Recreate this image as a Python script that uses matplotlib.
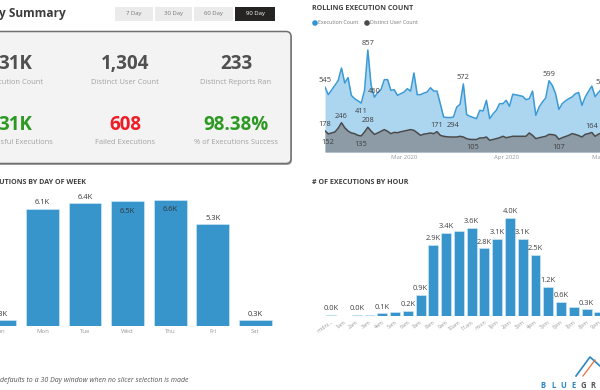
import matplotlib
matplotlib.use("Agg")
import matplotlib.pyplot as plt
import pandas as pd
from matplotlib.patches import FancyBboxPatch, Rectangle

plt.rcParams['font.family'] = ['Open Sans', 'DejaVu Sans']

W, H = 600, 390

# ---- data ----
slicer_labels = ["7 Day", "30 Day", "60 Day", "90 Day"]

kpi_values = ["31K", "1,304", "233", "31K", "608", "98.38%"]
kpi_labels = ["Execution Count", "Distinct User Count", "Distinct Reports Ran",
              "Successful Executions", "Failed Executions", "% of Executions Success"]

start_date = "2020-02-06"
exec_counts = [545, 482, 520, 560, 600, 706, 580, 625, 476, 448,
               430, 411, 518, 857, 560, 460, 500, 524, 608, 608,
               518, 524, 476, 490, 504, 532, 512, 664, 482, 482,
               495, 504, 540, 512, 512, 406, 294, 290, 289, 294,
               378, 400, 572, 314, 300, 290, 280, 350, 345, 434,
               280, 320, 350, 406, 406, 434, 384, 485, 480, 474,
               468, 440, 448, 512, 308, 378, 420, 454, 599, 560,
               490, 358, 406, 430, 448, 462, 490, 500, 392, 462,
               510, 554, 465, 500, 529, 480]
user_counts = [178, 152, 160, 168, 200, 246, 204, 176, 160, 154,
               140, 135, 168, 208, 176, 148, 160, 174, 188, 174,
               154, 165, 162, 170, 176, 182, 188, 182, 162, 140,
               150, 154, 160, 154, 171, 140, 132, 128, 126, 126,
               126, 132, 126, 112, 106, 105, 105, 118, 118, 126,
               98, 105, 112, 120, 132, 120, 126, 132, 132, 132,
               132, 132, 160, 140, 112, 120, 126, 132, 148, 146,
               140, 107, 120, 130, 140, 154, 148, 138, 126, 148,
               155, 164, 132, 150, 160, 150]
# (day index, above?) for the data labels Power BI shows
exec_marks = [(0, True), (11, False), (13, True), (15, True), (39, False),
              (42, True), (68, True), (84, True)]
user_marks = [(0, True), (1, False), (5, True), (11, False), (13, True),
              (34, True), (45, False), (71, False), (81, True)]

day_names = ["Sun", "Mon", "Tue", "Wed", "Thu", "Fri", "Sat"]
day_counts = [0.3, 6.1, 6.4, 6.5, 6.6, 5.3, 0.3]  # thousands
day_inside = ["Wed", "Thu"]

hour_names = ["midni...", "1am", "2am", "3am", "4am", "5am", "6am", "7am",
              "8am", "9am", "10am", "11am", "noon", "1pm", "2pm", "3pm",
              "4pm", "5pm", "6pm", "7pm", "8pm", "9pm"]
hour_counts = [0.04, 0.02, 0.04, 0.03, 0.11, 0.15, 0.22, 0.87, 2.9, 3.39,
               3.47, 3.59, 2.75, 3.12, 4.0, 3.13, 2.47, 1.19, 0.56, 0.35,
               0.27, 0.18]
hour_labelled = [0, 2, 4, 6, 7, 8, 9, 11, 12, 13, 14, 15, 16, 17, 18, 20]

BAR = "#3795cb"
LIGHT = "#a3a3a3"


def rect(l, t, r, b):
    return [l / W, 1 - b / H, (r - l) / W, (b - t) / H]


fig = plt.figure(figsize=(6, 3.9), dpi=100)
bg = fig.add_axes([0, 0, 1, 1])
bg.set_xlim(0, W)
bg.set_ylim(H, 0)
bg.axis("off")

# ---- header + slicer ----
bg.text(66, 13, "Report Activity Summary", fontsize=8.6, fontweight="bold",
        color="#3c3c3c", ha="right", va="center")
btn_x = [(115, 153), (155, 192), (194, 233), (235, 275)]
for (l, r), lab in zip(btn_x, slicer_labels):
    sel = lab == "90 Day"
    bg.add_patch(Rectangle((l, 7), r - l, 14, fc="#252423" if sel else "#ebebeb", ec="none"))
    bg.text((l + r) / 2, 14, lab, fontsize=4.3, color="white" if sel else "#777777",
            ha="center", va="center")

# ---- KPI card ----
bg.add_patch(FancyBboxPatch((-10, 33), 302, 132, boxstyle="round,pad=0,rounding_size=5",
                            fc="#a8a8a8", ec="none"))
bg.add_patch(FancyBboxPatch((-11, 31.5), 302, 132, boxstyle="round,pad=0,rounding_size=5",
                            fc="#f3f3f3", ec="#707070", lw=1.1))
col_x = [15, 125, 236]
val_colors = ["#505050", "#505050", "#505050", "#2c9a22", "#ee1c24", "#2c9a22"]
for i, (v, lab) in enumerate(zip(kpi_values, kpi_labels)):
    cx = col_x[i % 3]
    vy, ly = (64, 83) if i < 3 else (125, 143)
    bg.text(cx, vy, v, fontsize=13.5, fontweight="bold", color=val_colors[i],
            ha="center", va="center")
    bg.text(cx, ly, lab, fontsize=5.4, color=LIGHT, ha="center", va="center")

# ---- rolling execution count ----
bg.text(312, 8, "ROLLING EXECUTION COUNT", fontsize=5.1, fontweight="bold",
        color="#404040", ha="left", va="center")
bg.scatter([315, 367], [23, 23], s=9, color=["#2f96d3", "#4a4a4a"], zorder=3)
bg.text(318.5, 23, "Execution Count", fontsize=3.8, color="#777777", va="center")
bg.text(370.5, 23, "Distinct User Count", fontsize=3.8, color="#777777", va="center")

dates = pd.date_range(start_date, periods=len(exec_counts), freq="D")
ax = fig.add_axes(rect(325, 33, 605, 152))
ax.patch.set_alpha(0)
ax.fill_between(dates, exec_counts, color="#acd5ef", lw=0)
ax.plot(dates, exec_counts, color="#3a9ad6", lw=1.1)
ax.fill_between(dates, user_counts, color="#8c9ba6", lw=0)
ax.plot(dates, user_counts, color="#4a4a4a", lw=1.1)
ax.set_xlim(dates[0], pd.Timestamp("2020-05-01"))
ax.set_ylim(0, 1000)
for s in ax.spines.values():
    s.set_visible(False)
ax.set_yticks([])
ticks = pd.to_datetime(["2020-03-01", "2020-04-01", "2020-05-01"])
ax.set_xticks(ticks, [t.strftime("%b %Y") for t in ticks])
ax.tick_params(axis="x", length=0, pad=2.5, labelsize=4.3, labelcolor="#999999")
for series, marks in ((exec_counts, exec_marks), (user_counts, user_marks)):
    for d, above in marks:
        ax.annotate(str(series[d]), (dates[d], series[d]), xytext=(0, 4.5 if above else -6),
                    textcoords="offset points", ha="center", va="center",
                    fontsize=5.4, color="#404040", annotation_clip=False)

# ---- executions by day of week ----
bg.text(86, 182, "# OF EXECUTIONS BY DAY OF WEEK", fontsize=5.1, fontweight="bold",
        color="#404040", ha="right", va="center")
axd = fig.add_axes(rect(0, 190, 290, 326))
axd.patch.set_alpha(0)
xs = range(len(day_names))
axd.bar(xs, day_counts, width=0.77, color=BAR, ec="#d6eaf6", lw=0.4)
axd.set_xlim(0.0234, 6.815)
axd.set_ylim(0, 7.1)
for s in axd.spines.values():
    s.set_visible(False)
axd.set_yticks([])
axd.set_xticks(list(xs), day_names)
axd.tick_params(axis="x", length=0, pad=2.5, labelsize=4.3, labelcolor="#999999")
for i, (n, v) in enumerate(zip(day_names, day_counts)):
    inside = n in day_inside
    axd.annotate(f"{v:.1f}K", (i, v), xytext=(0, -7 if inside else 4.5),
                 textcoords="offset points", ha="center", va="center",
                 fontsize=5.4, color="#333333", annotation_clip=False)

# ---- executions by hour ----
bg.text(312, 182, "# OF EXECUTIONS BY HOUR", fontsize=5.1, fontweight="bold",
        color="#404040", ha="left", va="center")
axh = fig.add_axes(rect(312, 203, 612, 316))
axh.patch.set_alpha(0)
hx = range(len(hour_names))
axh.bar(hx, hour_counts, width=0.78, color=BAR, ec="#d6eaf6", lw=0.4)
axh.set_xlim(-1.503, 21.99)
axh.set_ylim(0, 4.593)
for s in axh.spines.values():
    s.set_visible(False)
axh.set_yticks([])
axh.set_xticks(list(hx), hour_names, rotation=35, ha="right", rotation_mode="anchor")
axh.tick_params(axis="x", length=0, pad=2.5, labelsize=3.8, labelcolor="#999999")
for i in hour_labelled:
    axh.annotate(f"{hour_counts[i]:.1f}K", (i, hour_counts[i]), xytext=(0, 4.5),
                 textcoords="offset points", ha="center", va="center",
                 fontsize=5.4, color="#404040", annotation_clip=False)

# ---- footer ----
bg.text(0, 381, "defaults to a 30 Day window when no slicer selection is made",
        fontsize=5.0, style="italic", color="#555555", ha="left", va="center")
logo = "BLUEGRASS"
for i, ch in enumerate(logo):
    bg.text(543 + 10 * i, 386, ch, fontsize=5.5, fontweight="bold",
            color="#2a86c4" if i < 4 else "#555555", ha="center", va="center")
bg.plot([576, 590, 600], [376, 357, 366], color="#2a86c4", lw=1.2)
bg.plot([583, 595], [376, 360], color="#e8703a", lw=0.9)

fig.savefig("out.png", dpi=100)
